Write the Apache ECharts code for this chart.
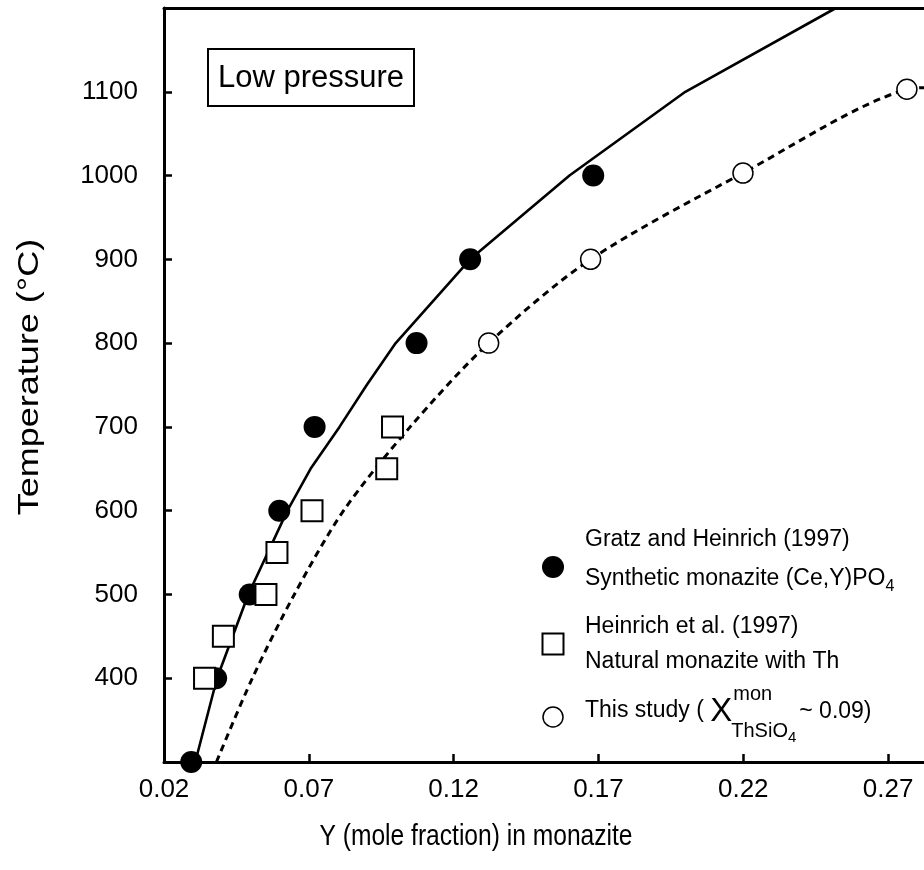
<!DOCTYPE html>
<html><head><meta charset="utf-8">
<script src="https://cdn.jsdelivr.net/npm/echarts@6/dist/echarts.min.js"></script>
<style>html,body{margin:0;padding:0;background:#fff}#c{width:924px;height:870px}</style>
</head><body><div id="c"></div>
<script>
// ---- data ----
const gratzY = [0.0294, 0.0380, 0.0496, 0.0598, 0.0720, 0.1072, 0.1257, 0.1682];
const gratzT = [300, 400, 500, 600, 700, 800, 900, 1000];
const heinrichY = [0.0340, 0.0405, 0.0552, 0.0590, 0.0711, 0.0969, 0.0989];
const heinrichT = [400, 450, 500, 550, 600, 650, 700];
const studyY = [0.1321, 0.1673, 0.2199, 0.2765];
const studyT = [800, 900, 1003, 1103];
const solidY = [0.0308, 0.0383, 0.0491, 0.0626, 0.0706, 0.0806, 0.0900, 0.1000, 0.1257, 0.1600, 0.2000, 0.2520];
const solidT = [300, 400, 500, 600, 650, 700, 750, 800, 900, 1000, 1100, 1200];
const dashY = [0.0381, 0.0505, 0.0650, 0.0820, 0.1050, 0.1321, 0.1673, 0.2199, 0.2765, 0.2840];
const dashT = [300, 400, 500, 600, 700, 800, 900, 1003, 1103, 1105];
const xMin = 0.02, xMax = 0.29, xStep = 0.05;
const yMin = 300, yMax = 1200, yStep = 100;
const hiddenYLabels = [300, 1200];

const FONT = '"Liberation Sans", Arial, Helvetica, sans-serif';
const cv = document.createElement('canvas').getContext('2d');
function tw(s, size) { cv.font = size + 'px ' + FONT; return cv.measureText(s).width; }
const zip = (a, b) => a.map((v, i) => [v, b[i]]);

function txt(x, y, s, size, align, extra) {
  const o = { type: 'text', x: x, y: y, silent: true,
    style: { text: s, font: size + 'px ' + FONT, fill: '#000',
      textAlign: align || 'left', textVerticalAlign: 'middle', align: align || 'left', verticalAlign: 'middle' } };
  return Object.assign(o, extra || {});
}

const LX = 585, legFs = 23;
const g = [];
// Low pressure box
g.push({ type: 'rect', shape: { x: 208, y: 49, width: 206, height: 57 }, style: { fill: '#fff', stroke: '#000', lineWidth: 2 }, silent: true });
g.push(txt(311, 78, 'Low pressure', 31, 'center'));
// axis titles
g.push(txt(30, 377, 'Temperature (°C)', 36, 'center', { rotation: Math.PI / 2, scaleY: 0.82 }));
g.push(txt(476, 837, 'Y (mole fraction) in monazite', 30, 'center', { scaleX: 0.82 }));
// legend
g.push({ type: 'circle', shape: { cx: 553, cy: 567, r: 11 }, style: { fill: '#000' }, silent: true });
g.push(txt(LX, 540, 'Gratz and Heinrich (1997)', legFs));
const s2 = 'Synthetic monazite (Ce,Y)PO';
g.push(txt(LX, 579, s2, legFs));
g.push(txt(LX + tw(s2, legFs), 587, '4', 16));
g.push({ type: 'rect', shape: { x: 542.5, y: 633.5, width: 21, height: 21 }, style: { fill: '#fff', stroke: '#000', lineWidth: 2 }, silent: true });
g.push(txt(LX, 627, 'Heinrich et al. (1997)', legFs));
g.push(txt(LX, 662, 'Natural monazite with Th', legFs));
g.push({ type: 'circle', shape: { cx: 553, cy: 717, r: 10 }, style: { fill: '#fff', stroke: '#000', lineWidth: 1.5 }, silent: true });
const s5 = 'This study ( ';
g.push(txt(LX, 711, s5, legFs));
const xX = LX + tw(s5, legFs);
g.push(txt(xX, 712, 'X', 33));
const xS = xX + tw('X', 33) + 1;
g.push(txt(xS, 694, 'mon', 20));
g.push(txt(xS - 2, 731, 'ThSiO', 20));
const x4 = xS - 2 + tw('ThSiO', 20);
g.push(txt(x4, 738, '4', 15));
g.push(txt(x4 + tw('4', 15) + 3, 712, '~ 0.09)', legFs));

const chart = echarts.init(document.getElementById('c'), null, { renderer: 'canvas' });
chart.setOption({
  animation: false,
  backgroundColor: '#fff',
  grid: { left: 164, top: 8, bottom: 108, right: -22, containLabel: false, outerBoundsMode: 'none' },
  xAxis: [{
    type: 'value', min: xMin, max: xMax, interval: xStep,
    axisLine: { show: true, onZero: false, lineStyle: { color: '#000', width: 3 } },
    axisTick: { show: true, inside: true, length: 8, lineStyle: { color: '#000', width: 2.5 } },
    splitLine: { show: false },
    axisLabel: { margin: 15, fontSize: 26, color: '#000', fontFamily: FONT,
      formatter: v => (Math.abs(v - xMax) < 1e-9 ? '' : v.toFixed(2)) }
  }, {
    type: 'value', position: 'top', min: xMin, max: xMax,
    axisLine: { show: true, onZero: false, lineStyle: { color: '#000', width: 3 } },
    axisTick: { show: false }, axisLabel: { show: false }, splitLine: { show: false }
  }],
  yAxis: {
    type: 'value', min: yMin, max: yMax, interval: yStep,
    axisLine: { show: true, onZero: false, lineStyle: { color: '#000', width: 3 } },
    axisTick: { show: true, inside: true, length: 8, lineStyle: { color: '#000', width: 2.5 } },
    splitLine: { show: false },
    axisLabel: { margin: 26, fontSize: 26, color: '#000', fontFamily: FONT,
      formatter: v => (hiddenYLabels.indexOf(v) >= 0 ? '' : String(v)) }
  },
  series: [
    { type: 'line', data: zip(solidY, solidT), showSymbol: false, symbol: 'none', z: 2,
      lineStyle: { color: '#000', width: 2.6 } },
    { type: 'line', data: zip(dashY, dashT), showSymbol: false, symbol: 'none', smooth: 0.3, z: 2,
      lineStyle: { color: '#000', width: 3, type: [7, 5] } },
    { type: 'scatter', data: zip(gratzY, gratzT), symbol: 'circle', symbolSize: 22, z: 3,
      itemStyle: { color: '#000', opacity: 1 } },
    { type: 'scatter', data: zip(heinrichY, heinrichT), symbol: 'rect', symbolSize: 21, z: 4,
      itemStyle: { color: '#fff', borderColor: '#000', borderWidth: 2, opacity: 1 } },
    { type: 'scatter', data: zip(studyY, studyT), symbol: 'circle', symbolSize: 20, z: 5,
      itemStyle: { color: '#fff', borderColor: '#000', borderWidth: 1.5, opacity: 1 } }
  ],
  graphic: g
});
</script></body></html>
